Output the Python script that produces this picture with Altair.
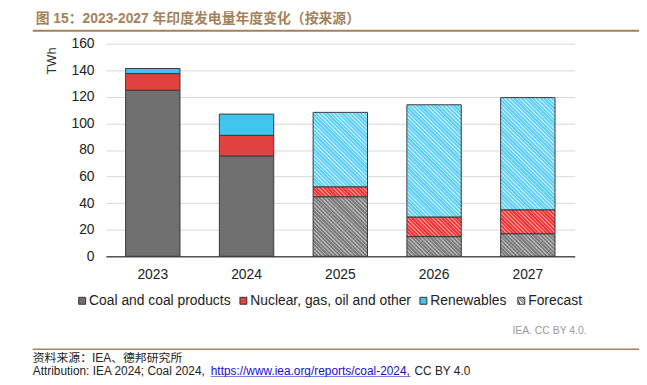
import altair as alt
import pandas as pd

# ---------------- data ----------------
years = ["2023", "2024", "2025", "2026", "2027"]
sources = ["Coal and coal products", "Nuclear, gas, oil and other", "Renewables"]
coal = [125.0, 75.5, 44.8, 14.8, 17.0]
nuclear = [12.5, 15.5, 7.5, 14.8, 18.0]
renewables = [3.8, 16.0, 56.0, 84.4, 84.4]
forecast = [False, False, True, True, True]
y_ticks = [0, 20, 40, 60, 80, 100, 120, 140, 160]

title_text = "图 15：2023-2027 年印度发电量年度变化（按来源）"
credit_text = "IEA. CC BY 4.0."
source_text = "资料来源：IEA、德邦研究所"
attr_a = "Attribution: IEA 2024; Coal 2024,"
attr_link = "https://www.iea.org/reports/coal-2024,"
attr_b = "CC BY 4.0"
forecast_label = "Forecast"

# ---------------- styles ----------------
solid_colors = ["#6f6f6f", "#e2423f", "#40c6ee"]
hatch_base = ["#7e7e7e", "#f03838", "#62d1f5"]
hatch_line = ["#b0b0b0", "#ff8686", "#b2eafb"]
BROWN = "#a5815a"
FONT = "Liberation Sans"
CJK = "Noto Sans CJK SC"

W, H = 474, 215
Y_MAX = 160
PAD_IN = 0.42
BAND = W / len(years) * (1 - PAD_IN)

rows = []
for i, yr in enumerate(years):
    for j, (s, vals) in enumerate(zip(sources, [coal, nuclear, renewables])):
        rows.append({"year": yr, "source": s, "value": vals[i], "idx": j,
                     "forecast": forecast[i]})
df = pd.DataFrame(rows)


def hatch_gradient(h_px, base, line, w=BAND, period=3.8, frac=0.6):
    """Diagonal stripes built as a linear gradient in bounding-box units."""
    r = h_px / w
    s = (w + h_px) / (w * (1 + r * r))
    L = w + h_px
    stops = []
    u = 0.0
    while u < L - 1e-9:
        a = u / L
        b = min((u + period * frac) / L, 1.0)
        c = min((u + period) / L, 1.0)
        stops += [{"offset": a, "color": base}, {"offset": b, "color": base},
                  {"offset": b, "color": line}, {"offset": c, "color": line}]
        u += period
    return {"gradient": "linear", "x1": 0, "y1": 1, "x2": s, "y2": 1 - s * r,
            "stops": stops}


conditions = []
for r_ in rows:
    if r_["forecast"]:
        j = r_["idx"]
        h_px = r_["value"] * H / Y_MAX
        conditions.append({
            "test": f"datum.year === '{r_['year']}' && datum.source === '{r_['source']}'",
            "value": hatch_gradient(h_px, hatch_base[j], hatch_line[j]),
        })

bars = alt.Chart(df).mark_bar(stroke="#3a3a3a", strokeWidth=1).encode(
    x=alt.X("year:N", sort=years,
            scale=alt.Scale(paddingInner=PAD_IN, paddingOuter=PAD_IN / 2),
            axis=alt.Axis(title=None, labelAngle=0, ticks=False, domain=True,
                          domainColor="#555555", domainWidth=1.5, grid=False,
                          labelFont=FONT, labelFontSize=14, labelColor="#222222",
                          labelPadding=11)),
    y=alt.Y("value:Q", stack="zero",
            scale=alt.Scale(domain=[0, Y_MAX], nice=False),
            axis=alt.Axis(title="TWh", values=y_ticks, ticks=False, domain=False,
                          grid=True, gridColor="#d9d9d9", gridWidth=1,
                          labelFont=FONT, labelFontSize=14, labelColor="#222222",
                          labelPadding=12, titleFont=FONT, titleFontSize=13,
                          titleFontWeight="normal", titleColor="#333333",
                          titleAngle=-90, titleAlign="center",
                          titleBaseline="alphabetic", titleX=-51, titleY=17)),
    fill=alt.Fill("source:N",
                  scale=alt.Scale(domain=sources, range=solid_colors),
                  legend=alt.Legend(title=None, orient="none", legendX=-31,
                                    legendY=253, direction="horizontal",
                                    symbolType="square", symbolSize=49,
                                    symbolStrokeColor="#333333",
                                    symbolStrokeWidth=1, labelFont=FONT,
                                    labelFontSize=14, labelColor="#222222",
                                    labelOffset=0, columnPadding=5,
                                    padding=0, offset=0, labelLimit=400),
                  condition=conditions),
    order=alt.Order("idx:Q"),
)

hatch_path = ("M-1,-1H1V1H-1Z M-1,-0.4L-0.4,1 M-1,-1L1,1 M-0.4,-1L1,0.4 "
              "M-1,0.3L-0.3,1 M0.3,-1L1,-0.3")
fc_legend = alt.Chart(pd.DataFrame({"label": [forecast_label]})).mark_point(
    opacity=0, filled=False).encode(
    shape=alt.Shape("label:N",
                    scale=alt.Scale(domain=[forecast_label], range=[hatch_path]),
                    legend=alt.Legend(title=None, orient="none", legendX=413,
                                      legendY=253, symbolSize=49,
                                      symbolStrokeColor="#444444",
                                      symbolFillColor="#ffffff",
                                      symbolStrokeWidth=1, symbolOpacity=1,
                                      labelFont=FONT, labelFontSize=14,
                                      labelColor="#222222", labelOffset=0,
                                      padding=0, offset=0)),
)


def text_layer(t, x, y, size, color="#222222", font=FONT, weight="normal",
               align="left"):
    return alt.Chart(pd.DataFrame({"t": [t]})).mark_text(
        align=align, baseline="middle", font=font, fontSize=size,
        fontWeight=weight, color=color).encode(
        x=alt.value(x), y=alt.value(y), text="t:N")


def rule_layer(x1, x2, y, color, width):
    return alt.Chart(pd.DataFrame({"a": [0]})).mark_rule(
        color=color, strokeWidth=width).encode(
        x=alt.value(x1), x2=alt.value(x2), y=alt.value(y))


layers = [
    bars,
    fc_legend,
    text_layer(title_text, -71, -25, 14, color=BROWN,
               font="Liberation Sans, Noto Sans CJK SC", weight="bold"),
    rule_layer(-74, 540, -13, BROWN, 2),
    text_layer(credit_text, 486, 291, 10.5, color="#999999", align="right"),
    rule_layer(-74, 540, 309, BROWN, 1.5),
    text_layer(source_text, -74, 318, 12, font="Liberation Sans, Noto Sans CJK SC"),
    text_layer(attr_a, -74, 331, 12),
    text_layer(attr_link, 106, 331, 12, color="#1a0dcc"),
    rule_layer(106, 308, 337, "#1a0dcc", 1),
    text_layer(attr_b, 312, 331, 12),
]

chart = alt.layer(*layers).properties(
    width=W, height=H,
    autosize=alt.AutoSizeParams(type="none"),
    padding={"left": 99, "top": 34, "right": 65, "bottom": 120},
).configure_view(stroke=None).configure_legend(
    symbolOpacity=1
)

chart.save("out.html", embed_options={"renderer": "svg", "actions": False})
